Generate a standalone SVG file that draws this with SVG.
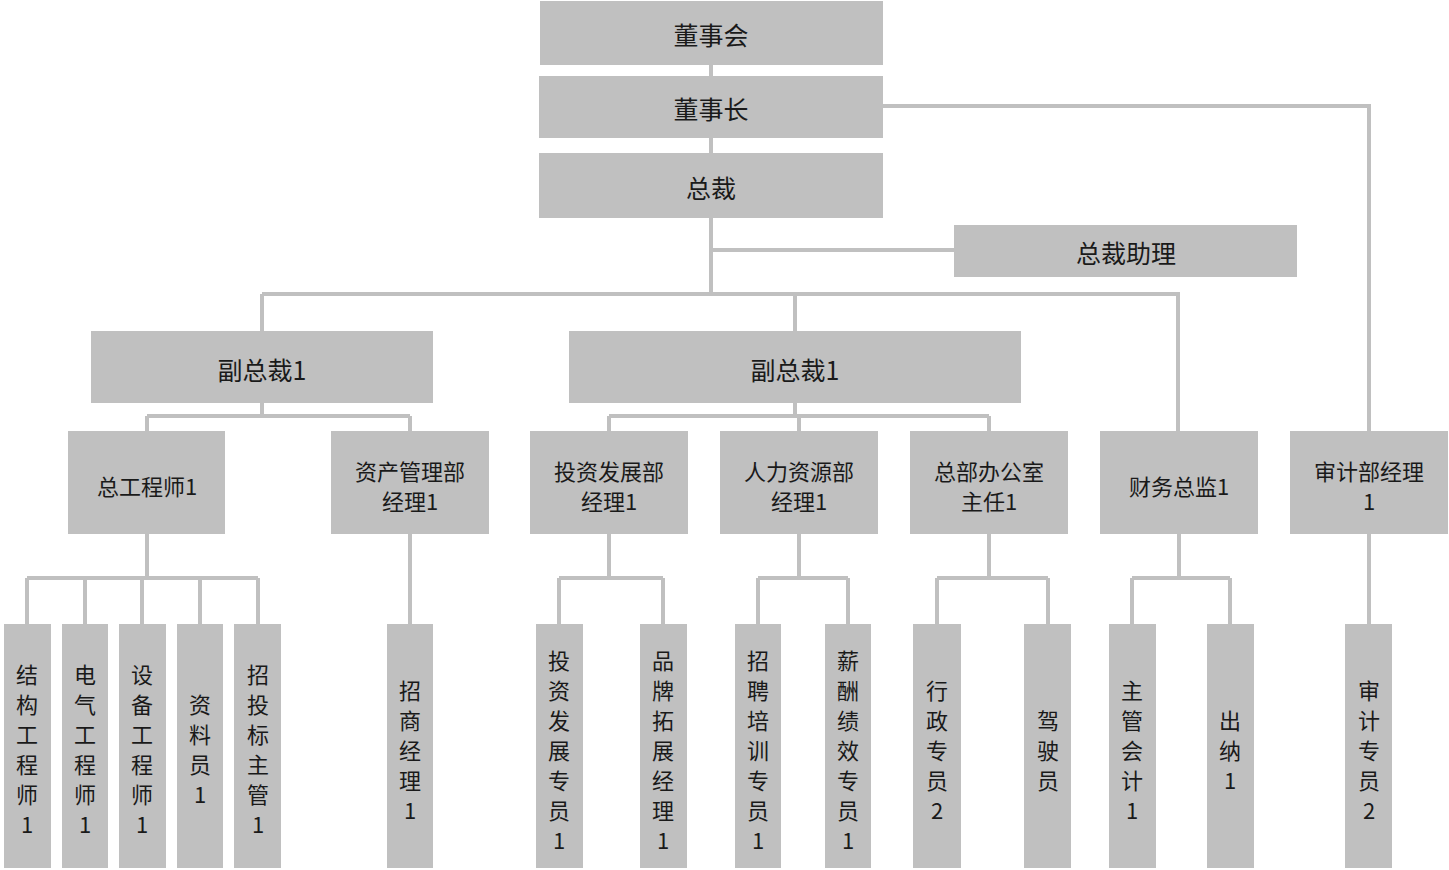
<svg xmlns="http://www.w3.org/2000/svg" width="1449" height="870" viewBox="0 0 1449 870">
<style>
rect{fill:#c0c0c0}
text{font-family:"Noto Sans CJK SC","Liberation Serif",serif;fill:#1a1a1a;text-anchor:middle;dominant-baseline:central}
.b{font-size:25px}.m{font-size:22px}.v{font-size:22px}
#conn path{fill:none;stroke:#c0c0c0;stroke-width:4}
</style>
<rect width="1449" height="870" style="fill:#fff"/>
<g id="conn"><path d="M711 65V153M711 218V294M711 250H954M262 294H1178V431M883 106H1369V431M262 294V331M795 294V331M262 403V416M147 416H410M147 416V431M410 416V431M795 403V416M609 416H989M609 416V431M799 416V431M989 416V431M147 534V578M27 578H258M27 578V624M85 578V624M142 578V624M200 578V624M258 578V624M410 534V624M609 534V578M559 578H663M559 578V624M663 578V624M799 534V578M758 578H848M758 578V624M848 578V624M989 534V578M937 578H1048M937 578V624M1048 578V624M1179 534V578M1132 578H1230M1132 578V624M1230 578V624M1369 534V624"/></g>
<g id="n1"><rect x="540" y="1" width="343" height="64"/><text class="b" x="711" y="34">董事会</text></g>
<g id="n2"><rect x="539" y="76" width="344" height="62"/><text class="b" x="711" y="108">董事长</text></g>
<g id="n3"><rect x="539" y="153" width="344" height="65"/><text class="b" x="711" y="187">总裁</text></g>
<g id="n4"><rect x="954" y="225" width="343" height="52"/><text class="b" x="1126" y="252">总裁助理</text></g>
<g id="n5"><rect x="91" y="331" width="342" height="72"/><text class="b" x="262" y="369">副总裁1</text></g>
<g id="n6"><rect x="569" y="331" width="452" height="72"/><text class="b" x="795" y="369">副总裁1</text></g>
<g id="n7"><rect x="68" y="431" width="157" height="103"/><text class="m" x="147" y="485">总工程师1</text></g>
<g id="n8"><rect x="331" y="431" width="158" height="103"/><text class="m" x="410" y="470">资产管理部</text><text class="m" x="410" y="500">经理1</text></g>
<g id="n9"><rect x="530" y="431" width="158" height="103"/><text class="m" x="609" y="470">投资发展部</text><text class="m" x="609" y="500">经理1</text></g>
<g id="n10"><rect x="720" y="431" width="158" height="103"/><text class="m" x="799" y="470">人力资源部</text><text class="m" x="799" y="500">经理1</text></g>
<g id="n11"><rect x="910" y="431" width="158" height="103"/><text class="m" x="989" y="470">总部办公室</text><text class="m" x="989" y="500">主任1</text></g>
<g id="n12"><rect x="1100" y="431" width="158" height="103"/><text class="m" x="1179" y="485">财务总监1</text></g>
<g id="n13"><rect x="1290" y="431" width="158" height="103"/><text class="m" x="1369" y="470">审计部经理</text><text class="m" x="1369" y="500">1</text></g>
<g id="c1"><rect x="4" y="624" width="47" height="244"/><text class="v" x="27"><tspan x="27" y="673">结</tspan><tspan x="27" y="703">构</tspan><tspan x="27" y="733">工</tspan><tspan x="27" y="763">程</tspan><tspan x="27" y="793">师</tspan><tspan x="27" y="823">1</tspan></text></g>
<g id="c2"><rect x="62" y="624" width="46" height="244"/><text class="v"><tspan x="85" y="673">电</tspan><tspan x="85" y="703">气</tspan><tspan x="85" y="733">工</tspan><tspan x="85" y="763">程</tspan><tspan x="85" y="793">师</tspan><tspan x="85" y="823">1</tspan></text></g>
<g id="c3"><rect x="119" y="624" width="47" height="244"/><text class="v"><tspan x="142" y="673">设</tspan><tspan x="142" y="703">备</tspan><tspan x="142" y="733">工</tspan><tspan x="142" y="763">程</tspan><tspan x="142" y="793">师</tspan><tspan x="142" y="823">1</tspan></text></g>
<g id="c4"><rect x="177" y="624" width="46" height="244"/><text class="v"><tspan x="200" y="703">资</tspan><tspan x="200" y="733">料</tspan><tspan x="200" y="763">员</tspan><tspan x="200" y="793">1</tspan></text></g>
<g id="c5"><rect x="234" y="624" width="47" height="244"/><text class="v"><tspan x="258" y="673">招</tspan><tspan x="258" y="703">投</tspan><tspan x="258" y="733">标</tspan><tspan x="258" y="763">主</tspan><tspan x="258" y="793">管</tspan><tspan x="258" y="823">1</tspan></text></g>
<g id="c6"><rect x="387" y="624" width="46" height="244"/><text class="v"><tspan x="410" y="689">招</tspan><tspan x="410" y="719">商</tspan><tspan x="410" y="749">经</tspan><tspan x="410" y="779">理</tspan><tspan x="410" y="809">1</tspan></text></g>
<g id="c7"><rect x="536" y="624" width="47" height="244"/><text class="v"><tspan x="559" y="659">投</tspan><tspan x="559" y="689">资</tspan><tspan x="559" y="719">发</tspan><tspan x="559" y="749">展</tspan><tspan x="559" y="779">专</tspan><tspan x="559" y="809">员</tspan><tspan x="559" y="839">1</tspan></text></g>
<g id="c8"><rect x="640" y="624" width="47" height="244"/><text class="v"><tspan x="663" y="659">品</tspan><tspan x="663" y="689">牌</tspan><tspan x="663" y="719">拓</tspan><tspan x="663" y="749">展</tspan><tspan x="663" y="779">经</tspan><tspan x="663" y="809">理</tspan><tspan x="663" y="839">1</tspan></text></g>
<g id="c9"><rect x="735" y="624" width="46" height="244"/><text class="v"><tspan x="758" y="659">招</tspan><tspan x="758" y="689">聘</tspan><tspan x="758" y="719">培</tspan><tspan x="758" y="749">训</tspan><tspan x="758" y="779">专</tspan><tspan x="758" y="809">员</tspan><tspan x="758" y="839">1</tspan></text></g>
<g id="c10"><rect x="825" y="624" width="46" height="244"/><text class="v"><tspan x="848" y="659">薪</tspan><tspan x="848" y="689">酬</tspan><tspan x="848" y="719">绩</tspan><tspan x="848" y="749">效</tspan><tspan x="848" y="779">专</tspan><tspan x="848" y="809">员</tspan><tspan x="848" y="839">1</tspan></text></g>
<g id="c11"><rect x="913" y="624" width="48" height="244"/><text class="v"><tspan x="937" y="689">行</tspan><tspan x="937" y="719">政</tspan><tspan x="937" y="749">专</tspan><tspan x="937" y="779">员</tspan><tspan x="937" y="809">2</tspan></text></g>
<g id="c12"><rect x="1024" y="624" width="47" height="244"/><text class="v"><tspan x="1048" y="719">驾</tspan><tspan x="1048" y="749">驶</tspan><tspan x="1048" y="779">员</tspan></text></g>
<g id="c13"><rect x="1109" y="624" width="47" height="244"/><text class="v"><tspan x="1132" y="689">主</tspan><tspan x="1132" y="719">管</tspan><tspan x="1132" y="749">会</tspan><tspan x="1132" y="779">计</tspan><tspan x="1132" y="809">1</tspan></text></g>
<g id="c14"><rect x="1207" y="624" width="47" height="244"/><text class="v"><tspan x="1230" y="719">出</tspan><tspan x="1230" y="749">纳</tspan><tspan x="1230" y="779">1</tspan></text></g>
<g id="c15"><rect x="1345" y="624" width="47" height="244"/><text class="v"><tspan x="1369" y="689">审</tspan><tspan x="1369" y="719">计</tspan><tspan x="1369" y="749">专</tspan><tspan x="1369" y="779">员</tspan><tspan x="1369" y="809">2</tspan></text></g>
</svg>
